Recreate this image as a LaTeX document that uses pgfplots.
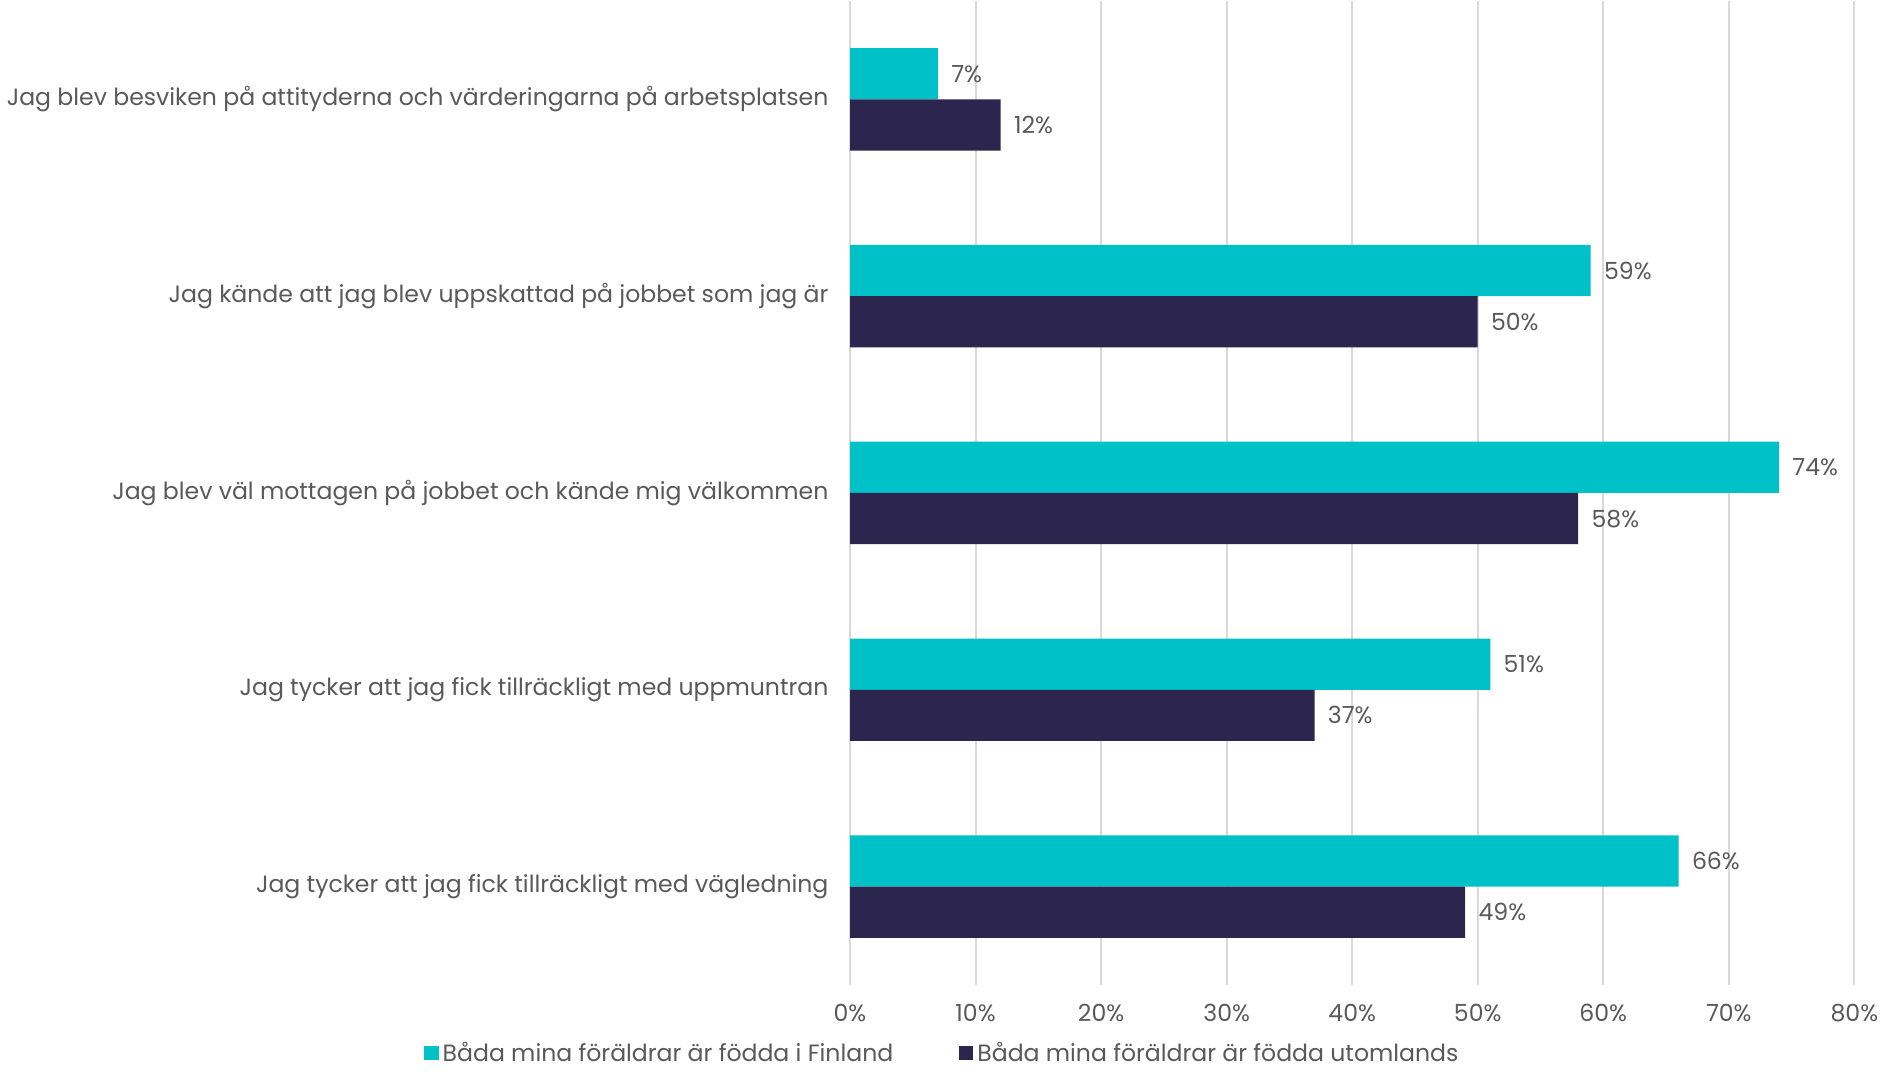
\documentclass[border=0pt]{standalone}
\usepackage{pgfplots}
\pgfplotsset{compat=1.18}
\usepackage{fontspec}
\setmainfont{Poppins}
\definecolor{cyanbar}{HTML}{00C0C8}
\definecolor{darkbar}{HTML}{2C254D}
\definecolor{txt}{HTML}{595959}
\definecolor{gridc}{HTML}{D9D9D9}
\begin{document}
\begin{tikzpicture}
\begin{axis}[
    scale only axis,
    width=490pt, height=480pt,
    xbar, bar width=25pt,
    xmin=0, xmax=80,
    ymin=-0.5, ymax=4.5,
    y dir=reverse,
    xtick={0,10,...,80},
    xticklabel={\pgfmathprintnumber{\tick}\%},
    ytick={0,1,2,3,4},
    yticklabels={Jag blev besviken på attityderna och värderingarna på arbetsplatsen,
                 Jag kände att jag blev uppskattad på jobbet som jag är,
                 Jag blev väl mottagen på jobbet och kände mig välkommen,
                 Jag tycker att jag fick tillräckligt med uppmuntran,
                 Jag tycker att jag fick tillräckligt med vägledning},
    /pgf/number format/assume math mode=true,
    axis line style={draw=none},
    major tick length=0pt,
    xmajorgrids, grid style={gridc, line width=1pt},
    tick label style={font=\fontsize{11.5}{13}\selectfont, text=txt},
    yticklabel style={xshift=-7pt},
    xticklabel style={yshift=-6pt},
    nodes near coords={\pgfmathprintnumber{\pgfplotspointmeta}\%},
    nodes near coords align={horizontal},
    every node near coord/.append style={font=\fontsize{11.5}{13}\selectfont, text=txt, xshift=3pt},
    legend style={at={(rel axis cs:0.093,-0.05)}, anchor=north, draw=none,
        font=\fontsize{11.5}{13}\selectfont, text=txt, legend columns=-1,
        /tikz/every even column/.append style={column sep=30pt}},
    legend image code/.code={\fill[#1] (0pt,-3pt) rectangle (7pt,4pt);},
]
\addplot[fill=cyanbar, draw=none, bar shift=12.5pt] coordinates {
    (7,0) (59,1) (74,2) (51,3) (66,4)
};
\addplot[fill=darkbar, draw=none, bar shift=-12.5pt] coordinates {
    (12,0) (50,1) (58,2) (37,3) (49,4)
};
\legend{Båda mina föräldrar är födda i Finland, Båda mina föräldrar är födda utomlands}
\end{axis}
\end{tikzpicture}
\end{document}
